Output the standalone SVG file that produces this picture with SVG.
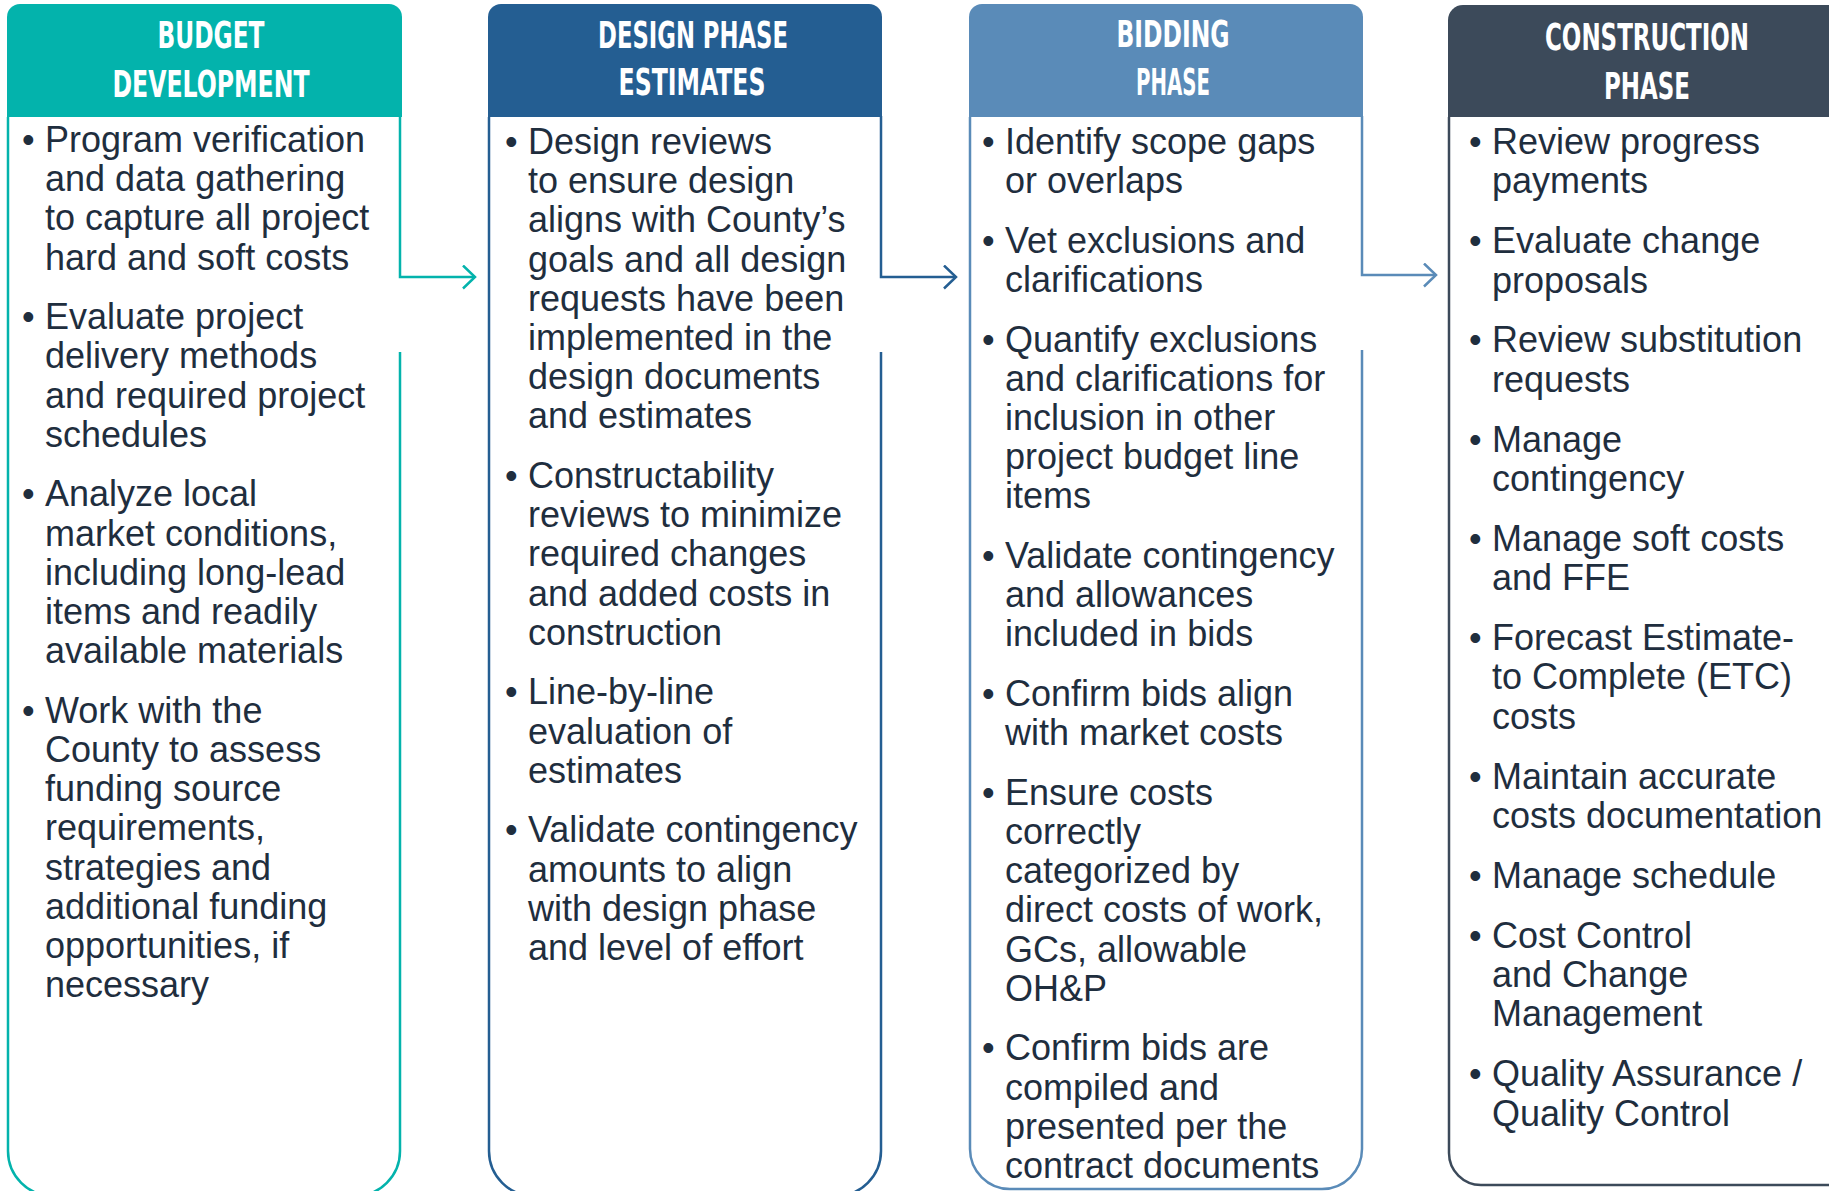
<svg xmlns="http://www.w3.org/2000/svg" width="1829" height="1191" viewBox="0 0 1829 1191">
<style>
.hd{font-family:"Liberation Sans Narrow","DejaVu Sans Condensed","Liberation Sans",sans-serif;font-weight:bold;font-size:37px;fill:#ffffff;text-anchor:middle}
.bt{font-family:"Liberation Sans",Arial,sans-serif;font-size:36px;fill:#1f2e3e}
.bd{fill:none;stroke-width:2.5}
.cn{fill:none;stroke-width:2.5}
</style>
<defs>
<marker id="aT" viewBox="0 0 15 26" refX="13" refY="12.5" markerWidth="15" markerHeight="26" markerUnits="userSpaceOnUse" orient="auto"><path d="M1,1 L13,12.5 L1,24" fill="none" stroke="#03B3AC" stroke-width="2.5"/></marker>
<marker id="aB" viewBox="0 0 15 26" refX="13" refY="12.5" markerWidth="15" markerHeight="26" markerUnits="userSpaceOnUse" orient="auto"><path d="M1,1 L13,12.5 L1,24" fill="none" stroke="#245E92" stroke-width="2.5"/></marker>
<marker id="aL" viewBox="0 0 15 26" refX="13" refY="12.5" markerWidth="15" markerHeight="26" markerUnits="userSpaceOnUse" orient="auto"><path d="M1,1 L13,12.5 L1,24" fill="none" stroke="#5A8BB8" stroke-width="2.5"/></marker>
</defs>
<rect width="1829" height="1191" fill="#ffffff"/>

<g id="budget-development">
<path d="M7,117 V17 A13,13 0 0 1 20,4 H389 A13,13 0 0 1 402,17 V117 Z" fill="#03B3AC"/>
<path class="bd" stroke="#03B3AC" d="M400,352 V1151 A45,45 0 0 1 355,1196 H53 A45,45 0 0 1 8,1151 V117"/>
<text class="hd" x="211" y="48" textLength="107" lengthAdjust="spacingAndGlyphs">BUDGET</text>
<text class="hd" x="211" y="97" textLength="197" lengthAdjust="spacingAndGlyphs">DEVELOPMENT</text>
<text class="bt"><tspan x="22" y="152">•</tspan><tspan x="22" y="329">•</tspan><tspan x="22" y="506">•</tspan><tspan x="22" y="723">•</tspan></text>
<text class="bt"><tspan x="45" y="152">Program verification</tspan><tspan x="45" y="191">and data gathering</tspan><tspan x="45" y="230">to capture all project</tspan><tspan x="45" y="270">hard and soft costs</tspan></text>
<text class="bt"><tspan x="45" y="329">Evaluate project</tspan><tspan x="45" y="368">delivery methods</tspan><tspan x="45" y="408">and required project</tspan><tspan x="45" y="447">schedules</tspan></text>
<text class="bt"><tspan x="45" y="506">Analyze local</tspan><tspan x="45" y="546">market conditions,</tspan><tspan x="45" y="585">including long-lead</tspan><tspan x="45" y="624">items and readily</tspan><tspan x="45" y="663">available materials</tspan></text>
<text class="bt"><tspan x="45" y="723">Work with the</tspan><tspan x="45" y="762">County to assess</tspan><tspan x="45" y="801">funding source</tspan><tspan x="45" y="840">requirements,</tspan><tspan x="45" y="880">strategies and</tspan><tspan x="45" y="919">additional funding</tspan><tspan x="45" y="958">opportunities, if</tspan><tspan x="45" y="997">necessary</tspan></text>
</g>

<g id="design-phase-estimates">
<path d="M488,117 V17 A13,13 0 0 1 501,4 H869 A13,13 0 0 1 882,17 V117 Z" fill="#245E92"/>
<path class="bd" stroke="#245E92" d="M881,352 V1151 A45,45 0 0 1 836,1196 H534 A45,45 0 0 1 489,1151 V117"/>
<text class="hd" x="693" y="48" textLength="190" lengthAdjust="spacingAndGlyphs">DESIGN PHASE</text>
<text class="hd" x="692" y="95" textLength="147" lengthAdjust="spacingAndGlyphs">ESTIMATES</text>
<text class="bt"><tspan x="505" y="154">•</tspan><tspan x="505" y="488">•</tspan><tspan x="505" y="704">•</tspan><tspan x="505" y="842">•</tspan></text>
<text class="bt"><tspan x="528" y="154">Design reviews</tspan><tspan x="528" y="193">to ensure design</tspan><tspan x="528" y="232">aligns with County’s</tspan><tspan x="528" y="272">goals and all design</tspan><tspan x="528" y="311">requests have been</tspan><tspan x="528" y="350">implemented in the</tspan><tspan x="528" y="389">design documents</tspan><tspan x="528" y="428">and estimates</tspan></text>
<text class="bt"><tspan x="528" y="488">Constructability</tspan><tspan x="528" y="527">reviews to minimize</tspan><tspan x="528" y="566">required changes</tspan><tspan x="528" y="606">and added costs in</tspan><tspan x="528" y="645">construction</tspan></text>
<text class="bt"><tspan x="528" y="704">Line-by-line</tspan><tspan x="528" y="744">evaluation of</tspan><tspan x="528" y="783">estimates</tspan></text>
<text class="bt"><tspan x="528" y="842">Validate contingency</tspan><tspan x="528" y="882">amounts to align</tspan><tspan x="528" y="921">with design phase</tspan><tspan x="528" y="960">and level of effort</tspan></text>
</g>

<g id="bidding-phase">
<path d="M969,117 V17 A13,13 0 0 1 982,4 H1350 A13,13 0 0 1 1363,17 V117 Z" fill="#5A8BB8"/>
<path class="bd" stroke="#5A8BB8" d="M1362,350 V1149 A40,40 0 0 1 1322,1189 H1010 A40,40 0 0 1 970,1149 V117"/>
<text class="hd" x="1173" y="47" textLength="113" lengthAdjust="spacingAndGlyphs">BIDDING</text>
<text class="hd" x="1173" y="95" textLength="74" lengthAdjust="spacingAndGlyphs">PHASE</text>
<text class="bt"><tspan x="982" y="154">•</tspan><tspan x="982" y="253">•</tspan><tspan x="982" y="352">•</tspan><tspan x="982" y="568">•</tspan><tspan x="982" y="706">•</tspan><tspan x="982" y="805">•</tspan><tspan x="982" y="1060">•</tspan></text>
<text class="bt"><tspan x="1005" y="154">Identify scope gaps</tspan><tspan x="1005" y="193">or overlaps</tspan></text>
<text class="bt"><tspan x="1005" y="253">Vet exclusions and</tspan><tspan x="1005" y="292">clarifications</tspan></text>
<text class="bt"><tspan x="1005" y="352">Quantify exclusions</tspan><tspan x="1005" y="391">and clarifications for</tspan><tspan x="1005" y="430">inclusion in other</tspan><tspan x="1005" y="469">project budget line</tspan><tspan x="1005" y="508">items</tspan></text>
<text class="bt"><tspan x="1005" y="568">Validate contingency</tspan><tspan x="1005" y="607">and allowances</tspan><tspan x="1005" y="646">included in bids</tspan></text>
<text class="bt"><tspan x="1005" y="706">Confirm bids align</tspan><tspan x="1005" y="745">with market costs</tspan></text>
<text class="bt"><tspan x="1005" y="805">Ensure costs</tspan><tspan x="1005" y="844">correctly</tspan><tspan x="1005" y="883">categorized by</tspan><tspan x="1005" y="922">direct costs of work,</tspan><tspan x="1005" y="962">GCs, allowable</tspan><tspan x="1005" y="1001">OH&amp;P</tspan></text>
<text class="bt"><tspan x="1005" y="1060">Confirm bids are</tspan><tspan x="1005" y="1100">compiled and</tspan><tspan x="1005" y="1139">presented per the</tspan><tspan x="1005" y="1178">contract documents</tspan></text>
</g>

<g id="construction-phase">
<path d="M1448,117 V20 A15,15 0 0 1 1463,5 H1828 A15,15 0 0 1 1843,20 V117 Z" fill="#3C4A5A"/>
<path class="bd" stroke="#3C4A5A" d="M1845,1185 H1481 A32,32 0 0 1 1449,1153 V117"/>
<text class="hd" x="1647" y="50" textLength="204" lengthAdjust="spacingAndGlyphs">CONSTRUCTION</text>
<text class="hd" x="1647" y="99" textLength="86" lengthAdjust="spacingAndGlyphs">PHASE</text>
<text class="bt"><tspan x="1469" y="154">•</tspan><tspan x="1469" y="253">•</tspan><tspan x="1469" y="352">•</tspan><tspan x="1469" y="452">•</tspan><tspan x="1469" y="551">•</tspan><tspan x="1469" y="650">•</tspan><tspan x="1469" y="789">•</tspan><tspan x="1469" y="888">•</tspan><tspan x="1469" y="948">•</tspan><tspan x="1469" y="1086">•</tspan></text>
<text class="bt"><tspan x="1492" y="154">Review progress</tspan><tspan x="1492" y="193">payments</tspan></text>
<text class="bt"><tspan x="1492" y="253">Evaluate change</tspan><tspan x="1492" y="293">proposals</tspan></text>
<text class="bt"><tspan x="1492" y="352">Review substitution</tspan><tspan x="1492" y="392">requests</tspan></text>
<text class="bt"><tspan x="1492" y="452">Manage</tspan><tspan x="1492" y="491">contingency</tspan></text>
<text class="bt"><tspan x="1492" y="551">Manage soft costs</tspan><tspan x="1492" y="590">and FFE</tspan></text>
<text class="bt"><tspan x="1492" y="650">Forecast Estimate-</tspan><tspan x="1492" y="689">to Complete (ETC)</tspan><tspan x="1492" y="729">costs</tspan></text>
<text class="bt"><tspan x="1492" y="789">Maintain accurate</tspan><tspan x="1492" y="828">costs documentation</tspan></text>
<text class="bt"><tspan x="1492" y="888">Manage schedule</tspan></text>
<text class="bt"><tspan x="1492" y="948">Cost Control</tspan><tspan x="1492" y="987">and Change</tspan><tspan x="1492" y="1026">Management</tspan></text>
<text class="bt"><tspan x="1492" y="1086">Quality Assurance /</tspan><tspan x="1492" y="1126">Quality Control</tspan></text>
</g>

<g id="connectors">
<path class="cn" stroke="#03B3AC" d="M400,116 V277 H475" marker-end="url(#aT)"/>
<path class="cn" stroke="#245E92" d="M881,116 V277 H956" marker-end="url(#aB)"/>
<path class="cn" stroke="#5A8BB8" d="M1362,116 V275 H1436" marker-end="url(#aL)"/>
</g>
</svg>
